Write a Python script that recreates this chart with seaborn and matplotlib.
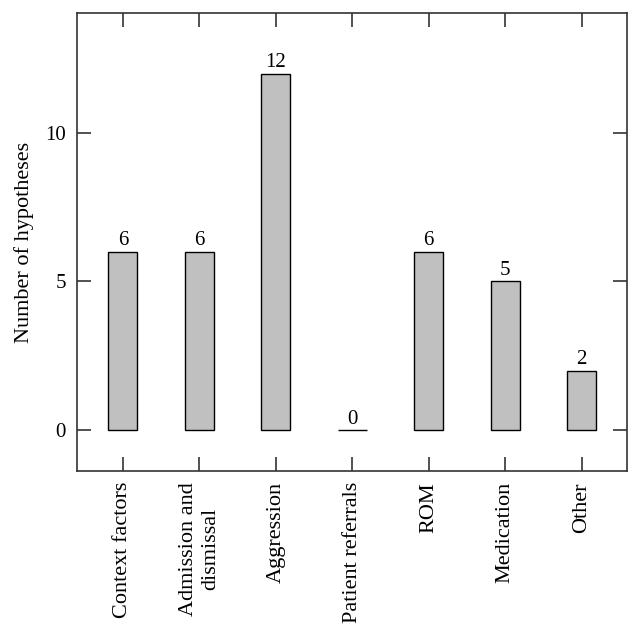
import matplotlib
matplotlib.use("Agg")
import matplotlib.pyplot as plt
import seaborn as sns
import pandas as pd

categories = ["Context factors", "Admission and\ndismissal", "Aggression", "Patient referrals",
              "ROM", "Medication", "Other"]
values = [6, 6, 12, 0, 6, 5, 2]

sns.set_style("ticks")
plt.rcParams['font.family'] = ['Liberation Serif', 'DejaVu Serif']
plt.rcParams['text.color'] = 'black'
plt.rcParams['axes.labelcolor'] = 'black'

df = pd.DataFrame({"cat": categories, "val": values})

fig = plt.figure(figsize=(6.42, 6.35), dpi=100)
ax = fig.add_axes([0.12, 0.2583, 0.8574, 0.7212])
sns.barplot(data=df, x="cat", y="val", color="#c0c0c0", edgecolor="black",
            linewidth=1.0, width=0.38, saturation=1, ax=ax)
for p, v in zip(ax.patches, values):
    ax.text(p.get_x() + p.get_width() / 2, v + 0.05, str(v), ha="center", va="bottom",
            fontsize=15, color="black")

ax.set_xlim(-0.6, 6.6)
ax.set_ylim(-1.38, 14.04)
ax.set_yticks([0, 5, 10])
ax.set_xlabel("")
ax.set_ylabel("Number of hypotheses", fontsize=16, labelpad=8, color="black")
ax.tick_params(axis="both", direction="in", length=10, width=1.2, labelsize=15,
               top=True, right=True, color="#333333", labelcolor="black")
ax.tick_params(axis="y", pad=8)
ax.tick_params(axis="x", rotation=90, labelsize=16, pad=8)
for s in ax.spines.values():
    s.set_linewidth(1.2)
    s.set_color("#333333")
fig.savefig("out.png", dpi=100)
